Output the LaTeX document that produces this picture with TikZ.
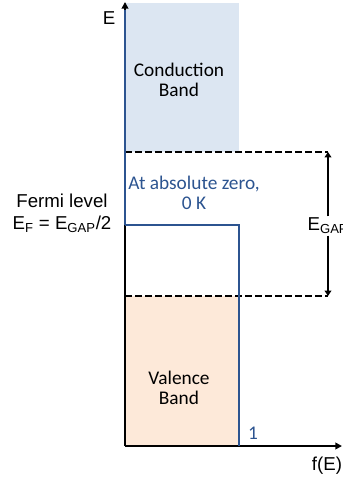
\documentclass[tikz,border=0pt]{standalone}
\usepackage{fontspec}
\setmainfont{Liberation Sans}
\newfontfamily\calibri{Carlito}
\usetikzlibrary{arrows.meta}
\definecolor{condfill}{HTML}{DCE6F2}
\definecolor{valfill}{HTML}{FDE9D9}
\definecolor{fermiblue}{HTML}{2C5490}

\begin{document}
\begin{tikzpicture}[x=0.75pt,y=-0.75pt,
    axis/.style={line width=1.4pt,-{Triangle[length=5pt,width=5pt]}},
    gapline/.style={line width=2.1pt,dash pattern=on 5.5pt off 2pt},
    fermi/.style={draw=fermiblue,line width=1.5pt},
    lbl/.style={font=\fontsize{14}{16.5}\selectfont,align=center,inner sep=0pt},
    bandlbl/.style={lbl,font=\calibri\fontsize{14.5}{15}\selectfont}]
  \clip (0,0) rectangle (342,477);
  \useasboundingbox (0,0) rectangle (342,477);

  % bands
  \fill[condfill] (125,3) rectangle (239,152);
  \fill[valfill] (125,296) rectangle (239,446);
  \draw[black,line width=1.4pt] (239,296) -- (239,446);

  % band edges and the gap
  \coordinate (cbl) at (125,152);
  \coordinate (cbr) at (328,152);
  \coordinate (vbl) at (125,296);
  \coordinate (vbr) at (328,296);
  \draw[gapline] (cbl) -- (cbr);
  \draw[gapline] (vbl) -- (vbr);
  \node[lbl,fill=white,inner sep=1pt] (egap) at (328,226) {E\textsubscript{GAP}};
  \draw[line width=1.2pt,-{Triangle[length=4pt,width=5pt]}] (egap.north -| cbr) -- (cbr);
  \draw[line width=1.2pt,-{Triangle[length=4pt,width=5pt]}] (egap.south -| vbr) -- (vbr);

  % axes
  \coordinate (origin) at (125,446);
  \coordinate (etop) at (125,2);
  \coordinate (fright) at (342,446);
  \draw[axis] (origin) -- (etop);
  \draw[axis] (origin) -- (fright);

  % f(E) at T = 0
  \draw[fermi,line width=2.2pt] (125,10) -- (125,225);
  \draw[fermi] (125,225) -- (239,225) -- (239,446);

  % texts
  \node[lbl] (elabel) at (109,18) {E};
  \node[lbl] (flabel) at (327,466) {f(E)};
  \node[bandlbl] (cond) at (179,80) {Conduction\\Band};
  \node[bandlbl] (val) at (179,388) {Valence\\Band};
  \node[bandlbl,text=fermiblue] (zero) at (194,193) {At absolute zero,\\0 K};
  \node[bandlbl,text=fermiblue] (one) at (253,433) {1};
  \node[lbl] (level) at (62,213) {Fermi level\\E\textsubscript{F} = E\textsubscript{GAP}/2};
\end{tikzpicture}
\end{document}
